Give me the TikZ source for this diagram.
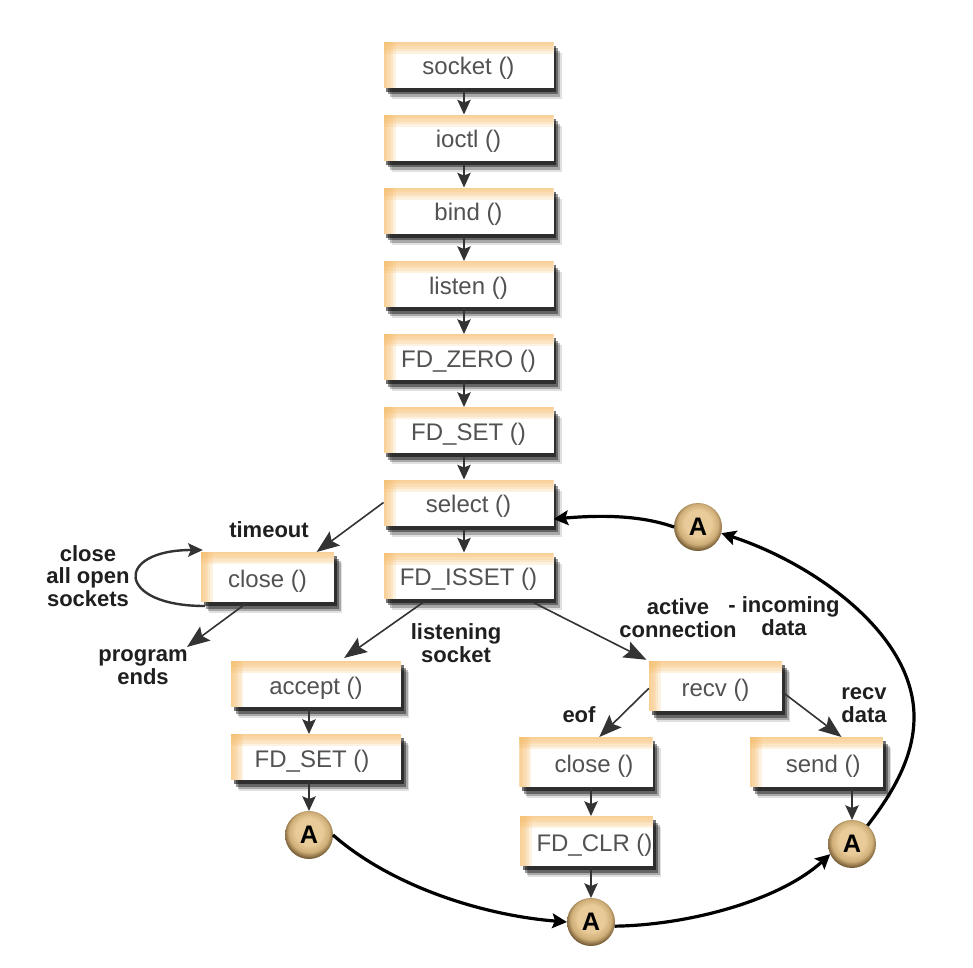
\documentclass[tikz,border=0pt]{standalone}
\usepackage{fontspec}
\setmainfont{Liberation Sans}
\usetikzlibrary{arrows.meta,shadows}

\definecolor{bandorange}{HTML}{F6BC68}
\definecolor{balllight}{HTML}{E8CB98}
\definecolor{ballmid}{HTML}{CFAE78}
\definecolor{balldark}{HTML}{6E5530}

\pgfdeclareradialshading{tanball}{\pgfpoint{0bp}{5bp}}{%
  color(0bp)=(balllight); color(14bp)=(balllight); color(21bp)=(ballmid);
  color(27bp)=(balldark); color(50bp)=(balldark)}

\tikzset{
  callbox/.style={draw=none,fill=white,minimum width=127.5pt,minimum height=34.5pt,
    inner sep=0pt,outer sep=0pt,text=black!68,font=\fontsize{18}{21}\selectfont,
    text height=18pt,text depth=3pt,
    general shadow={shadow xshift=2pt,shadow yshift=-3pt,fill=black,opacity=.55},
    general shadow={shadow xshift=3.5pt,shadow yshift=-5pt,fill=black,opacity=.4},
    general shadow={shadow xshift=5pt,shadow yshift=-7pt,fill=black,opacity=.25},
    general shadow={shadow xshift=6pt,shadow yshift=-8.5pt,fill=black,opacity=.12},
    path picture={
      \foreach \h in {1.8pt,3.6pt,5.4pt,7.2pt,9pt}{
        \fill[bandorange,opacity=.2] (path picture bounding box.north west)
          rectangle ([yshift=-\h]path picture bounding box.north east);
        \fill[bandorange,opacity=.2] (path picture bounding box.north west)
          rectangle ([xshift=\h]path picture bounding box.south west);
      }
    }},
  shortbox/.style={callbox,minimum width=100pt,minimum height=37.5pt},
  nudge/.style={execute at begin node={\hspace*{#1}}},
  ball/.style={circle,minimum size=36pt,inner sep=0pt,outer sep=0pt,shading=tanball,
    font=\fontsize{19}{21}\selectfont\bfseries,text=black},
  note/.style={align=center,text=black!88,font=\fontsize{16.5}{17}\selectfont\bfseries},
  flow/.style={draw=black!80,line width=1.2pt,-{Stealth[length=11pt,width=10pt,inset=2pt]}},
  longflow/.style={draw=black!80,line width=1.2pt,-{Stealth[length=17pt,width=13pt,inset=3pt]}},
  ring/.style={draw=black,line width=2.4pt,-{Stealth[length=11pt,width=11pt,inset=2pt]}},
}

\begin{document}
\begin{tikzpicture}[x=0.75pt,y=-0.75pt]
  \useasboundingbox (0,0) rectangle (973,967);

  % main column
  \node[callbox] (socket) at (468.5,64.5) {socket ()};
  \node[callbox] (ioctl) at (468.5,137.5) {ioctl ()};
  \node[callbox] (bind) at (468.5,210.5) {bind ()};
  \node[callbox] (listen) at (468.5,284) {listen ()};
  \node[callbox] (fdzero) at (468.5,357) {FD\_ZERO ()};
  \node[callbox] (fdset) at (468.5,430) {FD\_SET ()};
  \node[callbox] (select) at (468.5,502.5) {select ()};
  \node[callbox] (fdisset) at (468.5,575.5) {FD\_ISSET ()};

  % branches
  \node[shortbox] (closea) at (267.5,577) {close ()};
  \node[callbox] (accept) at (316,684) {accept ()};
  \node[callbox,nudge=-6pt] (fdsetb) at (316,757) {FD\_SET ()};
  \node[shortbox] (recv) at (715.5,686) {recv ()};
  \node[shortbox,nudge=12pt] (closeb) at (586,762) {close ()};
  \node[shortbox,nudge=12pt] (fdclr) at (586.5,841) {FD\_CLR ()};
  \node[shortbox,nudge=10pt] (send) at (816.5,762) {send ()};

  \node[ball] (aa) at (309,835) {A};
  \node[ball] (ab) at (591,922) {A};
  \node[ball] (ac) at (852,844) {A};
  \node[ball] (ad) at (698,527) {A};

  % labels
  \node[note] (timeout) at (269,530) {timeout};
  \node[note] (closeall) at (88,576) {close\\all open\\sockets};
  \node[note] (progends) at (143,667) {program\\ends};
  \node[note] (listening) at (456,643) {listening\\socket};
  \node[note] (active) at (678,618) {active\\connection};
  \node[note] (incoming) at (784,616) {- incoming\\data};
  \node[note] (eof) at (579,715) {eof};
  \node[note] (recvdata) at (864,705) {recv\\data};

  \coordinate (axis) at (464,0);
  \coordinate (progtip) at (187,647);
  \coordinate (bulge) at (914,717);

  % arrows
  \foreach \a/\b in {socket/ioctl,ioctl/bind,bind/listen,listen/fdzero,fdzero/fdset,fdset/select,select/fdisset}
    \draw[flow] (\a.south -| axis) -- (\b.north -| axis);
  \draw[flow] (accept.south -| aa) -- (fdsetb.north -| aa);
  \draw[flow] (fdsetb.south -| aa) -- (aa.north);
  \draw[flow] (closeb.south -| ab) -- (fdclr.north -| ab);
  \draw[flow] (fdclr.south -| ab) -- (ab.north);
  \draw[flow] (send.south -| ac) -- (ac.north);

  \draw[longflow] (select.west) -- (closea.27);
  \draw[longflow,shorten <=2pt] (closea.232) -- (progtip);
  \draw[longflow,shorten <=5pt,shorten >=4pt] (fdisset.210) -- (accept.44);
  \draw[longflow,shorten <=5pt,shorten >=2pt] (fdisset.-22) -- (recv.north west);
  \draw[longflow] (recv.182) -- (closeb.62);
  \draw[longflow] (recv.-5) -- (send.45);

  \draw[flow,line width=1.8pt] ([shift={(4,4)}]closea.south west)
    .. controls +(-89,0) and +(-89,0) .. ([shift={(2,-2)}]closea.north west);

  \draw[ring] (aa.east) .. controls (390,885) and (480,915) .. (ab.west);
  \draw[ring] (ab.-10) .. controls (690,925) and (780,900) .. (ac.205);
  \draw[ring] (ac.50) .. controls (895,790) and (914,755) .. (bulge)
    .. controls (914,632) and (810,562) .. (ad.-15);
  \draw[ring] (ad.west) .. controls (640,515) and (600,515) .. (select.-11.6);
\end{tikzpicture}
\end{document}
